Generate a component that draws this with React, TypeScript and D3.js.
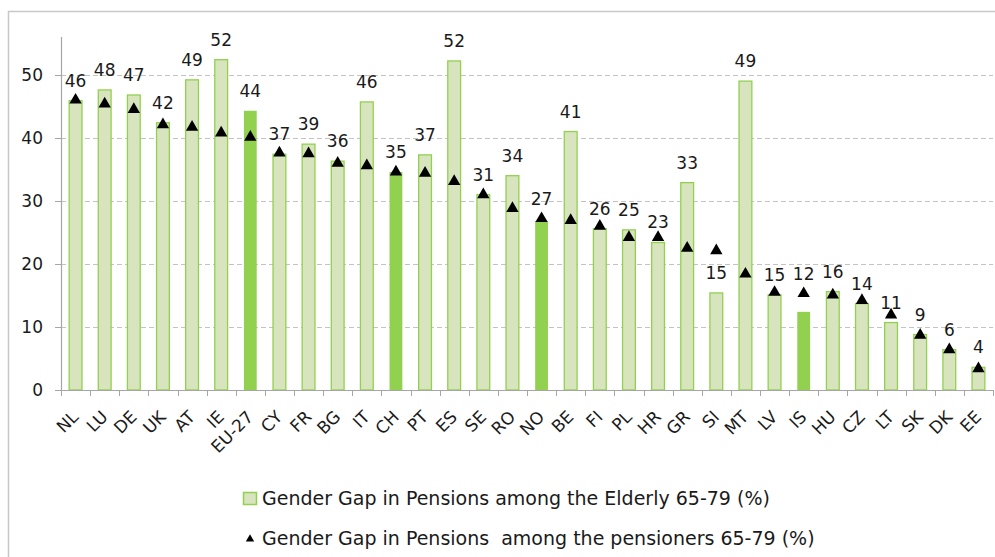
import React, { useEffect, useRef } from 'react'
import * as d3 from 'd3'

const countries = ['NL', 'LU', 'DE', 'UK', 'AT', 'IE', 'EU-27', 'CY', 'FR', 'BG', 'IT', 'CH', 'PT', 'ES', 'SE', 'RO', 'NO', 'BE', 'FI', 'PL', 'HR', 'GR', 'SI', 'MT', 'LV', 'IS', 'HU', 'CZ', 'LT', 'SK', 'DK', 'EE']
const elderlyGap = [45.9, 47.6, 46.8, 42.4, 49.2, 52.4, 44.3, 37.4, 39.0, 36.3, 45.7, 34.6, 37.3, 52.2, 31.0, 34.0, 26.8, 41.0, 25.6, 25.4, 23.4, 32.9, 15.4, 49.0, 15.1, 12.4, 15.6, 13.7, 10.7, 8.8, 6.4, 3.6]
const pensionerGap = [46.0, 45.4, 44.5, 42.1, 41.7, 40.8, 40.1, 37.6, 37.5, 36.0, 35.6, 34.6, 34.4, 33.1, 31.0, 28.8, 27.2, 26.9, 26.0, 24.2, 24.2, 22.5, 22.1, 18.4, 15.5, 15.3, 15.1, 14.2, 11.9, 8.7, 6.4, 3.4]
const highlighted = ['EU-27', 'CH', 'NO', 'IS']
const yTicks = [0, 10, 20, 30, 40, 50]
const legendLabels = [
  'Gender Gap in Pensions among the Elderly 65-79 (%)',
  'Gender Gap in Pensions  among the pensioners 65-79 (%)',
]

const FONT = '"DejaVu Sans", sans-serif'

const App = () => {
  const svgRef = useRef(null)

  useEffect(() => {
    const width = 995
    const height = 557
    const margin = { top: 37, right: 2, bottom: 167, left: 61 }

    const svg = d3.select(svgRef.current)
    svg.selectAll('*').remove()
    svg.attr('width', width).attr('height', height)

    // outer frame
    svg
      .append('path')
      .attr('d', `M8.5,${height} V11.5 H${width}`)
      .attr('fill', 'none')
      .attr('stroke', '#c8c8c8')
      .attr('stroke-width', 1.5)

    const x = d3
      .scaleBand()
      .domain(countries)
      .range([margin.left, width - margin.right])
      .paddingInner(0.56)
      .paddingOuter(0.28)

    const y = d3
      .scaleLinear()
      .domain([0, 56])
      .range([height - margin.bottom, margin.top])

    const y0 = y(0)
    const step = x.step()

    // gridlines
    svg
      .append('g')
      .selectAll('line')
      .data(yTicks.filter((d) => d > 0))
      .enter()
      .append('line')
      .attr('x1', margin.left)
      .attr('x2', width - margin.right)
      .attr('y1', (d) => Math.round(y(d)) + 0.5)
      .attr('y2', (d) => Math.round(y(d)) + 0.5)
      .attr('stroke', '#c3c3c3')
      .attr('stroke-dasharray', '5,3')

    // y axis
    svg
      .append('line')
      .attr('x1', margin.left + 0.5)
      .attr('x2', margin.left + 0.5)
      .attr('y1', margin.top)
      .attr('y2', y0)
      .attr('stroke', '#a6a6a6')
      .attr('stroke-width', 1.2)

    svg
      .append('g')
      .selectAll('line')
      .data(yTicks)
      .enter()
      .append('line')
      .attr('x1', margin.left - 6)
      .attr('x2', margin.left)
      .attr('y1', (d) => Math.round(y(d)) + 0.5)
      .attr('y2', (d) => Math.round(y(d)) + 0.5)
      .attr('stroke', '#a6a6a6')

    svg
      .append('g')
      .selectAll('text')
      .data(yTicks)
      .enter()
      .append('text')
      .attr('x', 43)
      .attr('y', (d) => y(d))
      .attr('dy', '0.36em')
      .attr('text-anchor', 'end')
      .style('font-family', FONT)
      .style('font-size', '17px')
      .attr('fill', '#1a1a1a')
      .text((d) => d)

    // bars
    svg
      .append('g')
      .selectAll('rect')
      .data(countries)
      .enter()
      .append('rect')
      .attr('x', (d) => x(d))
      .attr('y', (d, i) => y(elderlyGap[i]))
      .attr('width', x.bandwidth())
      .attr('height', (d, i) => y0 - y(elderlyGap[i]))
      .attr('fill', (d) => (highlighted.includes(d) ? '#92d050' : '#d7e4bd'))
      .attr('stroke', (d) => (highlighted.includes(d) ? 'none' : '#92d050'))
      .attr('stroke-width', 1.3)

    // x axis
    svg
      .append('line')
      .attr('x1', margin.left)
      .attr('x2', width - margin.right)
      .attr('y1', Math.round(y0) + 0.5)
      .attr('y2', Math.round(y0) + 0.5)
      .attr('stroke', '#a6a6a6')
      .attr('stroke-width', 1.2)

    svg
      .append('g')
      .selectAll('line')
      .data(d3.range(countries.length + 1))
      .enter()
      .append('line')
      .attr('x1', (d) => Math.round(margin.left + d * step) + 0.5)
      .attr('x2', (d) => Math.round(margin.left + d * step) + 0.5)
      .attr('y1', y0)
      .attr('y2', y0 + 6)
      .attr('stroke', '#a6a6a6')

    svg
      .append('g')
      .selectAll('text')
      .data(countries)
      .enter()
      .append('text')
      .attr('transform', (d) => `translate(${x(d) + x.bandwidth() / 2 + 4},${y0 + 28}) rotate(-45)`)
      .attr('text-anchor', 'end')
      .style('font-family', FONT)
      .style('font-size', '17px')
      .attr('fill', '#1a1a1a')
      .text((d) => d)

    // pensioner markers
    const tri = d3.symbol().type(d3.symbolTriangle).size(66)
    svg
      .append('g')
      .selectAll('path')
      .data(countries)
      .enter()
      .append('path')
      .attr('d', tri)
      .attr('transform', (d, i) => `translate(${x(d) + x.bandwidth() / 2},${y(pensionerGap[i])})`)
      .attr('fill', '#000')

    // value labels
    svg
      .append('g')
      .selectAll('text')
      .data(countries)
      .enter()
      .append('text')
      .attr('x', (d) => x(d) + x.bandwidth() / 2)
      .attr('y', (d, i) => {
        const v = highlighted.includes(d) ? Math.max(elderlyGap[i], pensionerGap[i]) : elderlyGap[i]
        return y(v) - 14
      })
      .attr('text-anchor', 'middle')
      .style('font-family', FONT)
      .style('font-size', '17px')
      .attr('fill', '#1a1a1a')
      .text((d, i) => Math.round(elderlyGap[i]))

    // legend
    const legend = svg.append('g')
    legend
      .append('rect')
      .attr('x', 243.5)
      .attr('y', 492.5)
      .attr('width', 13)
      .attr('height', 12)
      .attr('fill', '#d7e4bd')
      .attr('stroke', '#92d050')
      .attr('stroke-width', 1.5)
    legend
      .append('path')
      .attr('d', d3.symbol().type(d3.symbolTriangle).size(30))
      .attr('transform', 'translate(250,539)')
      .attr('fill', '#000')
    legend
      .selectAll('text')
      .data(legendLabels)
      .enter()
      .append('text')
      .attr('x', 262)
      .attr('y', (d, i) => 498 + i * 40)
      .attr('dy', '0.36em')
      .style('font-family', FONT)
      .style('font-size', '19px')
      .style('white-space', 'pre')
      .attr('fill', '#1a1a1a')
      .text((d) => d)
  }, [])

  return (
    <svg
      ref={svgRef}
      style={{ position: 'absolute', left: 0, top: 0, display: 'block', background: '#fff' }}
    ></svg>
  )
}

export default App
